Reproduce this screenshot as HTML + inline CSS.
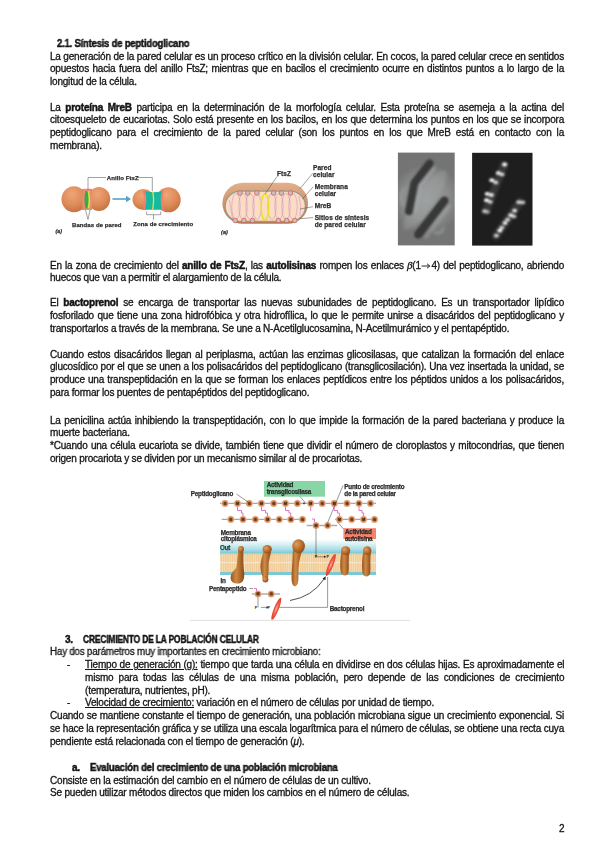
<!DOCTYPE html>
<html><head><meta charset="utf-8"><title>Síntesis de peptidoglicano</title>
<style>
html,body{margin:0;padding:0;background:#fff;}
body{width:600px;height:848px;position:relative;overflow:hidden;font-family:"Liberation Sans",sans-serif;font-size:10.0px;color:#141414;letter-spacing:-0.2px;-webkit-text-stroke:0.3px #141414;}
.l{position:absolute;will-change:transform;white-space:nowrap;line-height:12px;height:12px;}
.j{text-align:justify;text-align-last:justify;white-space:normal;}
b{font-weight:bold;-webkit-text-stroke:0.45px #141414;}
u{text-decoration:underline;text-underline-offset:0.8px;text-decoration-thickness:0.8px;}
svg{position:absolute;}
svg.ar{position:static;display:inline-block;vertical-align:0px;margin:0 0.3px;}
.bt{font-family:"Liberation Serif",serif;font-size:11px;}
</style></head><body>
<svg width="600" height="848" viewBox="0 0 600 848" style="left:0;top:0">
<defs>
<radialGradient id="cellg" cx="0.42" cy="0.3" r="0.75">
<stop offset="0" stop-color="#eea678"/><stop offset="0.55" stop-color="#df8c5a"/><stop offset="1" stop-color="#c0703e"/>
</radialGradient>
<linearGradient id="rodout" x1="0" y1="0" x2="0" y2="1">
<stop offset="0" stop-color="#e2b08c"/><stop offset="0.5" stop-color="#cf9468"/><stop offset="1" stop-color="#b87a50"/>
</linearGradient>
<filter id="bl1" x="-50%" y="-50%" width="200%" height="200%"><feGaussianBlur stdDeviation="0.9"/></filter>
<filter id="bl2" x="-50%" y="-50%" width="200%" height="200%"><feGaussianBlur stdDeviation="1.6"/></filter>
<filter id="bl05" x="-20%" y="-20%" width="140%" height="140%"><feGaussianBlur stdDeviation="0.4"/></filter>
<filter id="blt" x="-5%" y="-20%" width="110%" height="140%"><feGaussianBlur stdDeviation="0.25"/></filter>
<radialGradient id="pcg" cx="0.5" cy="0.5" r="0.62" gradientTransform="translate(0.5 0.5) scale(1 0.61) translate(-0.5 -0.5)">
<stop offset="0" stop-color="#9a9e9e"/><stop offset="0.6" stop-color="#8c8e8e"/><stop offset="1" stop-color="#747474"/>
</radialGradient>
</defs>
<!-- ===== Figure a: diplococci ===== -->
<g filter="url(#bl05)">
<ellipse cx="74" cy="199.3" rx="12.5" ry="13" fill="url(#cellg)"/>
<ellipse cx="99" cy="199" rx="11.2" ry="12" fill="url(#cellg)"/>
<rect x="82" y="189" width="10" height="21" fill="#dc8858"/>
<path d="M84 188.8 Q80.5 199.5 84 210 L91 210 Q93.5 199.5 91 188.8 Z" fill="#ef8a78"/>
<path d="M85.3 191 Q83.5 199.5 85.3 208.5 L89.5 208.5 Q91 199.5 89.5 191 Z" fill="#3aa848"/>
<path d="M87.5 191 Q89.5 199.5 87.5 208.5 L89.5 208.5 Q91 199.5 89.5 191 Z" fill="#d8e040"/>
<line x1="112.5" y1="199" x2="127" y2="199" stroke="#5aa2c4" stroke-width="1.6"/>
<path d="M126 195.8 L131 199 L126 202.2 Z" fill="#5aa2c4"/>
<ellipse cx="143.5" cy="199.6" rx="11" ry="10.5" fill="url(#cellg)"/>
<ellipse cx="168.5" cy="199.8" rx="12.2" ry="12.5" fill="url(#cellg)"/>
<path d="M143 190.5 Q145.5 200 143 210 L146 210 Q143.5 200 146 190.5 Z" fill="#ef7e6e"/>
<path d="M161.5 189.5 Q159 200 161.5 210.5 L164 210.5 Q161.5 200 164 189.5 Z" fill="#ef7e6e"/>
<path d="M145 191 Q147.5 200 145 209.8 L162 209.8 Q159.5 200 162 191 Q153.5 193.5 145 191 Z" fill="#17b8a0"/>
<path d="M152.6 191.5 Q154.6 200 152.6 209.5" stroke="#e2e43a" stroke-width="1.3" fill="none"/>
<g stroke="#555" stroke-width="0.55" fill="none">
<path d="M88 190 V177.5 H106"/><path d="M138 177.5 H152.3 V191"/>
<path d="M85.5 210 L88 219.5 L90 210"/>
<path d="M146.7 211.5 V214.7 H160.7 V211.5 M153.5 214.7 V219.5"/>
</g>
</g>
<g font-family="Liberation Sans" font-weight="bold" font-size="6" fill="#2e2e2e" stroke="#2e2e2e" stroke-width="0.25" letter-spacing="0.08" filter="url(#blt)">
<text x="106.8" y="180">Anillo FtsZ</text>
<text x="72" y="226.7">Bandas de pared</text>
<text x="133.3" y="226.2">Zona de crecimiento</text>
<text x="55.5" y="232.7" font-style="italic" font-size="5.3">(a)</text>
</g>
<!-- ===== Figure b: rod ===== -->
<g filter="url(#bl05)">
<rect x="222.4" y="182.8" width="85.7" height="41" rx="20.5" fill="url(#rodout)"/>
<rect x="224.6" y="190.6" width="81.4" height="31.4" rx="15.7" fill="#8e9c98"/>
<rect x="225.8" y="191.8" width="79" height="29" rx="14.5" fill="#fcdcc2"/>
<g stroke="#c08ac6" stroke-width="0.5" fill="none">
<ellipse cx="236" cy="206.5" rx="4.2" ry="13"/><ellipse cx="243" cy="206.5" rx="4.2" ry="13"/>
<ellipse cx="250" cy="206.5" rx="4.2" ry="13"/><ellipse cx="257" cy="206.5" rx="4.2" ry="13"/>
<ellipse cx="272" cy="206.5" rx="4.2" ry="13"/><ellipse cx="279" cy="206.5" rx="4.2" ry="13"/>
<ellipse cx="286" cy="206.5" rx="4.2" ry="13"/><ellipse cx="293" cy="206.5" rx="4.2" ry="13"/>
<path d="M229.5 200 Q231 212 233 220"/><path d="M299 196 Q302 206 300 216"/>
</g>
<g stroke="#e25a50" stroke-width="0.8" fill="#b8c4c8">
<circle cx="240" cy="193" r="2.3"/><circle cx="247.8" cy="193" r="2.3"/><circle cx="256.9" cy="193" r="2.3"/>
<circle cx="273.6" cy="193" r="2.3"/><circle cx="281.5" cy="193" r="2.3"/><circle cx="290.4" cy="193" r="2.3"/>
<circle cx="235.2" cy="220.5" r="2.3"/><circle cx="243.9" cy="220.5" r="2.3"/><circle cx="252.5" cy="220.5" r="2.3"/>
<circle cx="278.3" cy="220.5" r="2.3"/><circle cx="286.7" cy="220.5" r="2.3"/><circle cx="294.8" cy="220.5" r="2.3"/>
</g>
<ellipse cx="265" cy="207" rx="3.8" ry="13" fill="none" stroke="#e8e224" stroke-width="1.5"/>
<g stroke="#444" stroke-width="0.5" fill="none">
<path d="M265 194 L277 176.5"/>
<path d="M300 188.7 L312.7 173.3"/>
<path d="M302.7 198.7 L313.3 186.7"/>
<path d="M300 209 L313 206.7"/>
<path d="M300 218.7 L313 217.6"/>
</g>
</g>
<g font-family="Liberation Sans" font-weight="bold" font-size="6.5" fill="#2e2e2e" stroke="#2e2e2e" stroke-width="0.25" letter-spacing="0.08" filter="url(#blt)">
<text x="277" y="175.5">FtsZ</text>
<text x="313" y="170.4">Pared</text><text x="313" y="177">celular</text>
<text x="314.7" y="189">Membrana</text><text x="314.7" y="196">celular</text>
<text x="314.7" y="208.3">MreB</text>
<text x="314.7" y="220.3">Sitios de síntesis</text><text x="314.7" y="227">de pared celular</text>
<text x="221" y="233.5" font-style="italic" font-size="5.5">(a)</text>
</g>
<!-- ===== Microscopy phase contrast ===== -->
<rect x="397.9" y="152.6" width="56.8" height="92.8" fill="url(#pcg)"/>
<g filter="url(#bl2)">
<ellipse cx="425" cy="200" rx="9" ry="36" fill="#a2a6a6" opacity="0.35" transform="rotate(35 425 200)"/>
<path d="M435 167 L420.5 186 L415 212" stroke="#a6aaaa" stroke-width="3.5" fill="none" opacity="0.6"/>
<path d="M450 205 L425 238" stroke="#a6aaaa" stroke-width="3.5" fill="none" opacity="0.5"/>
<path d="M404 188 Q398 198 404 206" stroke="#a0a4a4" stroke-width="2" fill="none" opacity="0.8"/>
<path d="M434 232 Q440 236 444 228" stroke="#a0a4a4" stroke-width="2" fill="none" opacity="0.8"/>
</g>
<g filter="url(#bl1)" stroke="#383838" stroke-linecap="round" fill="none">
<path d="M429.6 163.4 L414.3 183 L408.9 211.2" stroke-width="7.8" stroke-linejoin="round"/>
<path d="M444.4 200.6 L418.3 234.4" stroke-width="8.4"/>
</g>
<!-- ===== Fluorescence ===== -->
<rect x="472.1" y="152.8" width="60.4" height="92.8" fill="#1e1e1e"/>
<g filter="url(#bl2)" stroke="#3a3a3a" stroke-width="8" stroke-linecap="round" opacity="0.9" fill="none">
<path d="M504 165 L486 211"/><path d="M520 202 L496 236"/>
</g>
<g filter="url(#bl1)" fill="#ffffff"><ellipse cx="504.6" cy="164.5" rx="2.5" ry="1.9" opacity="1.0"/><ellipse cx="498.3" cy="173" rx="2.5" ry="1.9" opacity="0.9"/><ellipse cx="502" cy="174.4" rx="2.5" ry="1.9" opacity="0.8"/><ellipse cx="491.8" cy="180.2" rx="2.5" ry="1.9" opacity="1.0"/><ellipse cx="495.8" cy="182.4" rx="2.5" ry="1.9" opacity="0.8"/><ellipse cx="487.2" cy="193.8" rx="2.5" ry="1.9" opacity="1.0"/><ellipse cx="491.4" cy="195" rx="2.5" ry="1.9" opacity="0.9"/><ellipse cx="486.5" cy="200.2" rx="2.5" ry="1.9" opacity="1.0"/><ellipse cx="490.2" cy="201.8" rx="2.5" ry="1.9" opacity="0.8"/><ellipse cx="484.6" cy="211.2" rx="2.5" ry="1.9" opacity="0.7"/><ellipse cx="487.6" cy="211.8" rx="2.5" ry="1.9" opacity="0.5"/><ellipse cx="518.8" cy="202.2" rx="2.5" ry="1.9" opacity="0.8"/><ellipse cx="522.8" cy="202.4" rx="2.5" ry="1.9" opacity="0.7"/><ellipse cx="514.6" cy="210.6" rx="2.5" ry="1.9" opacity="0.9"/><ellipse cx="510.8" cy="215.2" rx="2.5" ry="1.9" opacity="0.9"/><ellipse cx="514" cy="216.4" rx="2.5" ry="1.9" opacity="0.7"/><ellipse cx="507.6" cy="219.6" rx="2.5" ry="1.9" opacity="0.8"/><ellipse cx="505" cy="223" rx="2.5" ry="1.9" opacity="0.9"/><ellipse cx="501.8" cy="227.6" rx="2.5" ry="1.9" opacity="0.8"/><ellipse cx="499.8" cy="230.6" rx="2.5" ry="1.9" opacity="1.0"/><ellipse cx="496.4" cy="235.6" rx="2.5" ry="1.9" opacity="0.8"/></g>
</svg>

<svg width="600" height="848" viewBox="0 0 600 848" style="left:0;top:0">
<defs>
<radialGradient id="bead" cx="0.5" cy="0.5" r="0.5">
<stop offset="0" stop-color="#7a4428"/><stop offset="0.45" stop-color="#b86e44"/><stop offset="0.8" stop-color="#e2a074"/><stop offset="1" stop-color="#f0c4a4"/>
</radialGradient>
<linearGradient id="cyan" x1="0" y1="0" x2="0" y2="1">
<stop offset="0" stop-color="#ffffff"/><stop offset="0.3" stop-color="#e0f3f6"/><stop offset="0.75" stop-color="#a8dce6"/><stop offset="1" stop-color="#74c6d2"/>
</linearGradient>
<pattern id="lip" x="0" y="0" width="2.2" height="20" patternUnits="userSpaceOnUse">
<rect width="2.2" height="20" fill="#f2cd98"/><rect width="0.6" height="20" fill="#f8e2bc"/>
</pattern>
<radialGradient id="prot" cx="0.35" cy="0.35" r="0.75">
<stop offset="0" stop-color="#e0a060"/><stop offset="0.55" stop-color="#b86c2c"/><stop offset="1" stop-color="#8a4818"/>
</radialGradient>
<linearGradient id="protl" x1="0" y1="0" x2="1" y2="0">
<stop offset="0" stop-color="#9a5420"/><stop offset="0.4" stop-color="#d08a44"/><stop offset="1" stop-color="#8a4818"/>
</linearGradient>
<radialGradient id="redb" cx="0.5" cy="0.5" r="0.5">
<stop offset="0" stop-color="#ffb0a0"/><stop offset="0.5" stop-color="#f0604a"/><stop offset="1" stop-color="#e03a28"/>
</radialGradient>
<filter id="f05" x="-20%" y="-20%" width="140%" height="140%"><feGaussianBlur stdDeviation="0.4"/></filter>
<filter id="ft" x="-5%" y="-20%" width="110%" height="140%"><feGaussianBlur stdDeviation="0.25"/></filter>
</defs>
<g filter="url(#f05)">
<!-- faint background rule lines -->
<line x1="190" y1="620.4" x2="410" y2="620.4" stroke="#d8d8d8" stroke-width="0.8"/>
<!-- green box -->
<rect x="264" y="481" width="61" height="15.7" fill="#88d6a6"/>
<!-- orange box -->
<rect x="343.4" y="528.2" width="32.6" height="15" fill="#f4826a"/>
<!-- membrane -->
<rect x="220" y="539" width="156" height="14.5" fill="url(#cyan)"/>
<rect x="220" y="553.5" width="156" height="18.4" fill="url(#lip)"/>
<line x1="220" y1="562.7" x2="376" y2="562.7" stroke="#fbeede" stroke-width="0.8"/>
<line x1="220" y1="553.8" x2="376" y2="553.8" stroke="#6cbccc" stroke-width="0.7" stroke-dasharray="1 0.6"/>
<rect x="220" y="571.9" width="156" height="3.1" fill="#7cc8d4"/>
<!-- peptidoglycan backbones -->
<g stroke="#a8a8a8" stroke-width="1.4">
<line x1="220" y1="503.4" x2="376" y2="503.4"/>
<line x1="221.7" y1="519.4" x2="306" y2="519.4"/>
<line x1="335" y1="519.4" x2="378" y2="519.4"/>
<line x1="306.7" y1="525.5" x2="337" y2="525.5"/>
<line x1="252" y1="594" x2="280" y2="594"/>
</g>
<!-- pink peptide bridges -->
<g stroke="#e070c4" stroke-width="1" fill="none">
<path d="M237.5 506.5 V510.5 H241.5 V513 H243 V516"/>
<path d="M261.5 506.5 V510.5 H265.5 V513 H267.5 V516"/>
<path d="M285.5 506.5 V510.5 H289 V513 H290.7 V516"/>
<path d="M310.7 506.5 V511"/>
<path d="M312 519 H314.5 V522.5"/>
<path d="M334.2 506.5 V510.5 H337.5 V513 H339.4 V516"/>
<path d="M359 506.5 V510.5 H362 V513 H363.6 V516"/>
<path d="M254 588.5 H256.5 V591"/>
</g>
<!-- beads -->
<g fill="url(#bead)">
<circle cx="225" cy="503.4" r="3.6"/><circle cx="237.5" cy="503.4" r="3.6"/><circle cx="249.3" cy="503.4" r="3.6"/>
<circle cx="261.4" cy="503.4" r="3.6"/><circle cx="273.7" cy="503.4" r="3.6"/><circle cx="285.5" cy="503.4" r="3.6"/>
<circle cx="297.4" cy="503.4" r="3.6"/><circle cx="310.7" cy="503.4" r="3.6"/><circle cx="322.2" cy="503.4" r="3.6"/>
<circle cx="334.2" cy="503.4" r="3.6"/><circle cx="347" cy="503.4" r="3.6"/><circle cx="359" cy="503.4" r="3.6"/>
<circle cx="370.5" cy="503.4" r="3.6"/>
<circle cx="230.8" cy="519.4" r="3.6"/><circle cx="243" cy="519.4" r="3.6"/><circle cx="255.4" cy="519.4" r="3.6"/>
<circle cx="267.6" cy="519.4" r="3.6"/><circle cx="279.3" cy="519.4" r="3.6"/><circle cx="290.8" cy="519.4" r="3.6"/>
<circle cx="302.5" cy="519.4" r="3.6"/>
<circle cx="339.4" cy="519.4" r="3.6"/><circle cx="351.7" cy="519.4" r="3.6"/><circle cx="363.6" cy="519.4" r="3.6"/>
<circle cx="374.5" cy="519.4" r="3.6"/>
<circle cx="316" cy="525.5" r="3.6"/><circle cx="327.6" cy="525.5" r="3.6"/>
<circle cx="258" cy="594" r="3.6"/><circle cx="271.2" cy="594" r="3.6"/>
</g>
<circle cx="304" cy="503.4" r="0.9" fill="#333"/>
<g font-family="Liberation Sans" font-weight="bold" font-size="3.6" fill="#3a2010" text-anchor="middle"><text x="225" y="504.7">G</text><text x="237.5" y="504.7">M</text><text x="249.3" y="504.7">G</text><text x="261.4" y="504.7">M</text><text x="273.7" y="504.7">G</text><text x="285.5" y="504.7">M</text><text x="297.4" y="504.7">G</text><text x="310.7" y="504.7">M</text><text x="322.2" y="504.7">G</text><text x="334.2" y="504.7">M</text><text x="347" y="504.7">G</text><text x="359" y="504.7">M</text><text x="370.5" y="504.7">G</text><text x="230.8" y="520.7">G</text><text x="243" y="520.7">M</text><text x="255.4" y="520.7">G</text><text x="267.6" y="520.7">M</text><text x="279.3" y="520.7">G</text><text x="290.8" y="520.7">M</text><text x="302.5" y="520.7">G</text><text x="339.4" y="520.7">M</text><text x="351.7" y="520.7">G</text><text x="363.6" y="520.7">M</text><text x="374.5" y="520.7">G</text><text x="316" y="526.8">M</text><text x="327.6" y="526.8">G</text><text x="258" y="595.3">M</text><text x="271.2" y="595.3">G</text></g>
<!-- leader lines -->
<g stroke="#333" stroke-width="0.5" fill="none">
<path d="M236.5 494 L248 502"/>
<path d="M300 496.5 L305.5 503"/>
<path d="M343 485.5 L327.5 523"/>
<path d="M343.4 529 L337.5 522"/>
<path d="M316 528.5 V556.8"/>
<path d="M249.5 588.5 H253"/>
<path d="M258 597 V607.4"/>
<path d="M276 607.4 H327.6 V577"/>
<path d="M316 556.8 H326"/>
<path d="M261 607.4 H268"/>
</g>
<path d="M326 556.8 l-2 -1.3 v2.6 z" fill="#333"/><path d="M268.5 607.4 l-2 -1.3 v2.6 z" fill="#333"/>
<!-- proteins -->
<g>
<path d="M238.8 549 C237.6 555 237.2 560 236.6 566 C236 570 231 571.5 230.6 577.5 C230.4 582.5 235 584.2 239.5 583.4 C244 582.5 244.8 577 244 571 C243.3 565.5 243.2 559 243.4 552.5 Z" fill="url(#protl)"/>
<ellipse cx="241" cy="549.3" rx="2.9" ry="3.2" fill="url(#prot)"/>
<path d="M263.5 550.5 C262.8 556 260.2 561 260.4 567 C260.6 572 262.2 575 263 579 L268 579.5 C268.3 575 268.8 571 268.6 565.5 C268.4 560 270.6 556 271 551.5 Z" fill="url(#protl)"/>
<ellipse cx="267.2" cy="549.3" rx="4.6" ry="4.2" fill="url(#prot)"/>
<ellipse cx="265.4" cy="579.6" rx="3" ry="3" fill="url(#prot)"/>
<path d="M293 549 C292.6 558 292 566 291.6 574 C291.3 580 291.6 585.5 294.8 586.4 C298 586 298.6 581 298.4 574.5 C298.2 566 299.4 559 302 551 Z" fill="url(#protl)"/>
<ellipse cx="298.6" cy="546.2" rx="6.3" ry="7" fill="url(#prot)"/>
<path d="M341.6 551.5 C340.2 558 339.8 566 340.6 571.5 C341.4 576.5 347.8 576.8 348.6 572 C349.4 566 348 558.5 349.6 552.5 Z" fill="url(#protl)"/>
<ellipse cx="345.6" cy="550.6" rx="4.6" ry="4.4" fill="url(#prot)"/>
<path d="M363.4 551.5 C362 558 361.6 566 362.4 572.5 C363.2 577.5 369.4 577.8 370.2 573 C371 567 369.6 559 371 552.5 Z" fill="url(#protl)"/>
<ellipse cx="367.2" cy="550.6" rx="4.2" ry="4.4" fill="url(#prot)"/>
</g>
<!-- bactoprenol ellipses -->
<ellipse cx="330.8" cy="565" rx="2.4" ry="11.8" transform="rotate(22 330.8 565)" fill="url(#redb)"/>
<ellipse cx="276.3" cy="608.8" rx="2.4" ry="11.8" transform="rotate(22 276.3 608.8)" fill="url(#redb)"/>
<!-- curved arrow -->
<path d="M290 600.5 Q312 597 324 579" stroke="#222" stroke-width="0.8" fill="none"/>
<path d="M325.8 576.2 l-3.2 2.2 l2.8 1.8 z" fill="#222"/>
</g>
<g font-family="Liberation Sans" font-weight="bold" font-size="6.3" fill="#2a2a2a" stroke="#2a2a2a" stroke-width="0.25" filter="url(#ft)">
<text x="190.8" y="495.6">Peptidoglicano</text>
<text x="266.7" y="487.2">Actividad</text><text x="266.7" y="493.6">transglicosilasa</text>
<text x="344.3" y="489.3">Punto de crecimiento</text><text x="344.3" y="495.6">de la pared celular</text>
<text x="220.8" y="535">Membrana</text><text x="220.8" y="541.3">citoplásmica</text>
<text x="345" y="534.4">Actividad</text><text x="345" y="540.8">autolisina</text>
<text x="220" y="550" fill="#1e5a2a">Out</text>
<text x="220.5" y="583">In</text>
<text x="209" y="591">Pentapeptido</text>
<text x="329.7" y="611.2">Bactoprenol</text>
</g>
<g font-family="Liberation Sans" font-weight="bold" font-size="3.6" fill="#222" text-anchor="middle">
<text x="255.9" y="609">P</text><text x="268.5" y="609">P</text>
<text x="315.8" y="558.3">P</text><text x="327.5" y="558.3">P</text>
</g>
</svg>

<div class="l" style="left:56.70px;top:38.10px;transform:scaleX(0.9453);transform-origin:0 0;"><b>2.1.&nbsp;Síntesis de peptidoglicano</b></div><div class="l j" style="left:50.00px;top:50.70px;width:514.00px;">La generación de la pared celular es un proceso crítico en la división celular. En cocos, la pared celular crece en sentidos</div><div class="l j" style="left:50.00px;top:63.45px;width:514.00px;">opuestos hacia fuera del anillo FtsZ; mientras que en bacilos el crecimiento ocurre en distintos puntos a lo largo de la</div><div class="l" style="left:50.00px;top:76.20px;">longitud de la célula.</div><div class="l j" style="left:50.00px;top:101.70px;width:514.00px;">La <b>proteína MreB</b> participa en la determinación de la morfología celular. Esta proteína se asemeja a la actina del</div><div class="l j" style="left:50.00px;top:114.45px;width:514.00px;">citoesqueleto de eucariotas. Solo está presente en los bacilos, en los que determina los puntos en los que se incorpora</div><div class="l j" style="left:50.00px;top:127.20px;width:514.00px;">peptidoglicano para el crecimiento de la pared celular (son los puntos en los que MreB está en contacto con la</div><div class="l" style="left:50.00px;top:139.95px;">membrana).</div><div class="l j" style="left:50.00px;top:258.80px;width:514.00px;">En la zona de crecimiento del <b>anillo de FtsZ</b>, las <b>autolisinas</b> rompen los enlaces <i class='bt'>β</i>(1<svg class='ar' width='10' height='6' viewBox='0 0 10 6'><path d='M0.5 3 H8.5 M6 0.8 L8.8 3 L6 5.2' stroke='#141414' stroke-width='0.9' fill='none'/></svg>4) del peptidoglicano, abriendo</div><div class="l" style="left:50.00px;top:271.55px;">huecos que van a permitir el alargamiento de la célula.</div><div class="l j" style="left:50.00px;top:297.05px;width:514.00px;">El <b>bactoprenol</b> se encarga de transportar las nuevas subunidades de peptidoglicano. Es un transportador lipídico</div><div class="l j" style="left:50.00px;top:309.80px;width:514.00px;">fosforilado que tiene una zona hidrofóbica y otra hidrofílica, lo que le permite unirse a disacáridos del peptidoglicano y</div><div class="l" style="left:50.00px;top:322.55px;">transportarlos a través de la membrana. Se une a N-Acetilglucosamina, N-Acetilmurámico y el pentapéptido.</div><div class="l j" style="left:50.00px;top:348.55px;width:514.00px;">Cuando estos disacáridos llegan al periplasma, actúan las enzimas glicosilasas, que catalizan la formación del enlace</div><div class="l j" style="left:50.00px;top:361.30px;width:514.00px;">glucosídico por el que se unen a los polisacáridos del peptidoglicano (transglicosilación). Una vez insertada la unidad, se</div><div class="l j" style="left:50.00px;top:374.05px;width:514.00px;">produce una transpeptidación en la que se forman los enlaces peptídicos entre los péptidos unidos a los polisacáridos,</div><div class="l" style="left:50.00px;top:386.80px;">para formar los puentes de pentapéptidos del peptidoglicano.</div><div class="l j" style="left:50.00px;top:414.60px;width:514.00px;">La penicilina actúa inhibiendo la transpeptidación, con lo que impide la formación de la pared bacteriana y produce la</div><div class="l" style="left:50.00px;top:427.35px;">muerte bacteriana.</div><div class="l j" style="left:50.00px;top:440.10px;width:514.00px;">*Cuando una célula eucariota se divide, también tiene que dividir el número de cloroplastos y mitocondrias, que tienen</div><div class="l" style="left:50.00px;top:452.85px;">origen procariota y se dividen por un mecanismo similar al de procariotas.</div><div class="l" style="left:65.30px;top:633.60px;"><b>3.</b></div><div class="l" style="left:82.70px;top:633.60px;transform:scaleX(0.8429);transform-origin:0 0;"><b>CRECIMIENTO DE LA POBLACIÓN CELULAR</b></div><div class="l" style="left:50.00px;top:646.38px;transform:scaleX(0.9772);transform-origin:0 0;">Hay dos parámetros muy importantes en crecimiento microbiano:</div><div class="l" style="left:67.00px;top:659.15px;">-</div><div class="l j" style="left:84.70px;top:659.15px;width:479.30px;"><u>Tiempo de generación (g):</u> tiempo que tarda una célula en dividirse en dos células hijas. Es aproximadamente el</div><div class="l j" style="left:84.70px;top:671.93px;width:479.30px;">mismo para todas las células de una misma población, pero depende de las condiciones de crecimiento</div><div class="l" style="left:84.70px;top:684.70px;">(temperatura, nutrientes, pH).</div><div class="l" style="left:67.00px;top:697.48px;">-</div><div class="l" style="left:84.70px;top:697.48px;"><u>Velocidad de crecimiento:</u> variación en el número de células por unidad de tiempo.</div><div class="l j" style="left:50.00px;top:710.25px;width:514.00px;">Cuando se mantiene constante el tiempo de generación, una población microbiana sigue un crecimiento exponencial. Si</div><div class="l j" style="left:50.00px;top:723.02px;width:514.00px;">se hace la representación gráfica y se utiliza una escala logarítmica para el número de células, se obtiene una recta cuya</div><div class="l" style="left:50.00px;top:735.80px;">pendiente está relacionada con el tiempo de generación (<i>μ</i>).</div><div class="l" style="left:71.70px;top:761.90px;"><b>a.</b></div><div class="l" style="left:90.00px;top:761.90px;transform:scaleX(0.9546);transform-origin:0 0;"><b>Evaluación del crecimiento de una población microbiana</b></div><div class="l" style="left:50.00px;top:774.65px;">Consiste en la estimación del cambio en el número de células de un cultivo.</div><div class="l" style="left:50.00px;top:787.40px;">Se pueden utilizar métodos directos que miden los cambios en el número de células.</div><div class="l" style="left:559.00px;top:823.10px;">2</div>
</body></html>
